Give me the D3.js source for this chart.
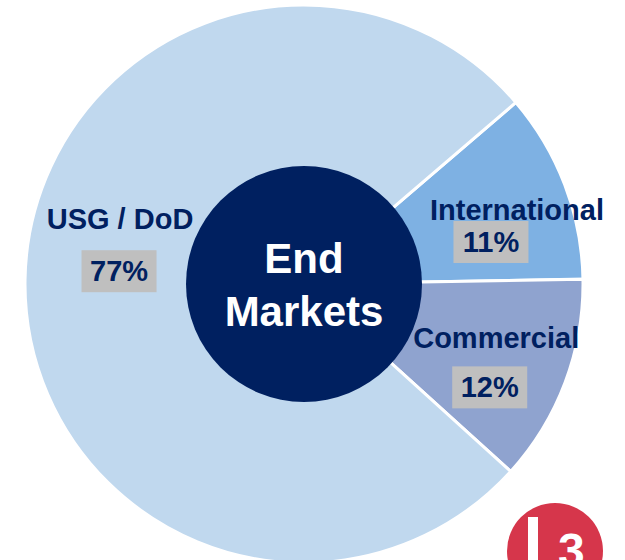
<!DOCTYPE html>
<html lang="en">
<head>
    <meta charset="UTF-8">
    <title>End Markets</title>
    <style>
        body { margin: 0; background: #fff; }
        text { font-family: "Liberation Sans", Arial, sans-serif; font-weight: bold; }
    </style>
</head>
<body>

    <div id="d3-container"></div>

    <script src="https://d3js.org/d3.v7.min.js"></script>
    <script>
        // slices, clockwise starting from the upper right
        const categories = ["International", "Commercial", "USG / DoD"];
        const shares = [11, 12, 77];
        const shareLabels = ["11%", "12%", "77%"];
        const colors = ["#7eb1e3", "#8fa3cf", "#c0d8ee"];

        const width = 625;
        const height = 560;
        const cx = 304, cy = 284;
        const outerR = 279;
        const innerR = 118;
        const navy = "#002060";

        // where each label sits relative to the slice centroid (radius 200)
        const labelOffset = {
            "International": { name: [26, 7], box: [0, 29] },
            "Commercial": { name: [5, -6], box: [-1.5, 33] },
            "USG / DoD": { name: [16, -52], box: [15, -10] }
        };

        const svg = d3.select('#d3-container')
            .append('svg')
            .attr('width', width)
            .attr('height', height)
            .attr('viewBox', [0, 0, width, height]);

        const start = 49.4 * Math.PI / 180;
        const pie = d3.pie()
            .sort(null)
            .value(d => d.value)
            .startAngle(start)
            .endAngle(start + 2 * Math.PI);

        const data = categories.map((c, i) => ({ name: c, value: shares[i], label: shareLabels[i], color: colors[i] }));
        const arcs = pie(data);

        const arc = d3.arc().innerRadius(0).outerRadius(outerR);
        const labelArc = d3.arc().innerRadius(200).outerRadius(200);

        const g = svg.append('g').attr('transform', `translate(${cx},${cy})`);

        g.selectAll('path')
            .data(arcs)
            .join('path')
            .attr('d', arc)
            .attr('fill', d => d.data.color)
            .attr('stroke', '#fff')
            .attr('stroke-width', 3)
            .attr('stroke-linejoin', 'miter');

        // center hole
        g.append('circle')
            .attr('r', innerR)
            .attr('fill', navy);

        g.append('text')
            .attr('text-anchor', 'middle')
            .attr('fill', '#fff')
            .attr('font-size', '42px')
            .selectAll('tspan')
            .data(["End", "Markets"])
            .join('tspan')
            .attr('x', 0)
            .attr('y', (d, i) => i === 0 ? -11 : 42)
            .text(d => d);

        const labels = g.selectAll('g.label')
            .data(arcs)
            .join('g')
            .attr('class', 'label')
            .attr('transform', d => `translate(${labelArc.centroid(d)})`);

        labels.append('text')
            .attr('x', d => labelOffset[d.data.name].name[0])
            .attr('y', d => labelOffset[d.data.name].name[1])
            .attr('text-anchor', 'middle')
            .attr('font-size', '29px')
            .attr('fill', navy)
            .text(d => d.data.name);

        labels.append('rect')
            .attr('x', d => labelOffset[d.data.name].box[0] - 37.5)
            .attr('y', d => labelOffset[d.data.name].box[1] - 21)
            .attr('width', 75)
            .attr('height', 42)
            .attr('fill', '#bfbfbf');

        labels.append('text')
            .attr('x', d => labelOffset[d.data.name].box[0])
            .attr('y', d => labelOffset[d.data.name].box[1] + 10)
            .attr('text-anchor', 'middle')
            .attr('font-size', '29px')
            .attr('fill', navy)
            .text(d => d.data.label);

        // logo in the corner, cut by the bottom edge as in the slide
        const logo = svg.append('g').attr('transform', 'translate(555,551)');
        logo.append('circle').attr('r', 48).attr('fill', '#d6364b');
        logo.append('rect')
            .attr('x', -27).attr('y', -34)
            .attr('width', 10).attr('height', 50)
            .attr('fill', '#fff');
        logo.append('text')
            .attr('x', 3).attr('y', 16)
            .attr('font-size', '48px')
            .attr('fill', '#fff')
            .text("3");
    </script>

</body>
</html>
